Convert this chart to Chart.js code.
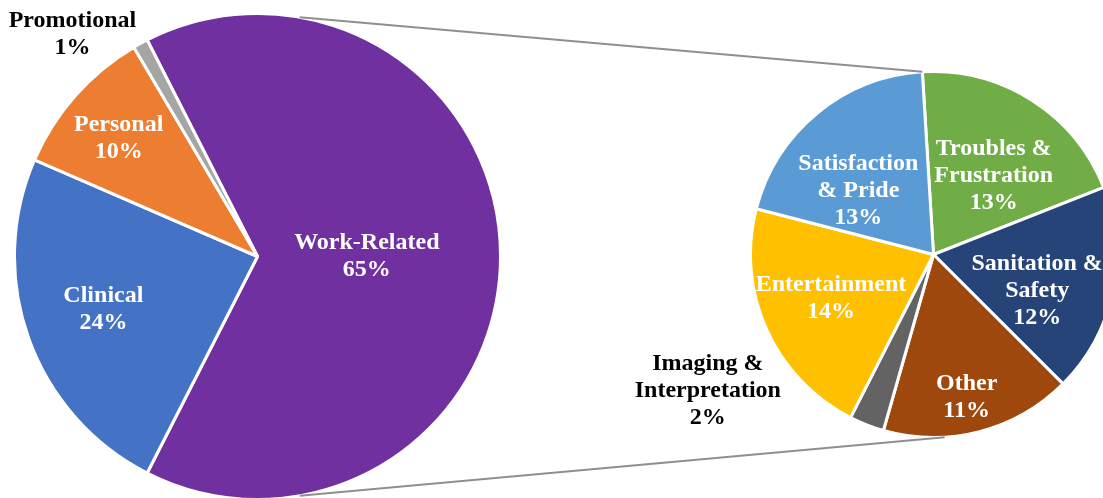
<!DOCTYPE html>
<html>
<head>
<meta charset="utf-8">
<script src="https://cdn.jsdelivr.net/npm/chart.js@4"></script>
<style>
  html, body { margin: 0; padding: 0; background: #fff; width: 1103px; height: 498px; overflow: hidden; }
  #wrap { position: relative; width: 1103px; height: 498px; overflow: hidden; }
  .box { position: absolute; }
  #mainBox { left: 13px; top: 12px; width: 489px; height: 489px; }
  #subBox { left: 749px; top: 70px; width: 369px; height: 369px; }
  #overlay { position: absolute; left: 0; top: 0; pointer-events: none; }
</style>
</head>
<body>
<div id="wrap">
  <div class="box" id="mainBox"><canvas id="mainPie"></canvas></div>
  <div class="box" id="subBox"><canvas id="subPie"></canvas></div>
  <canvas id="overlay" width="1103" height="498"></canvas>
</div>
<script>
// data
const mainCategories = [['Work-Related'], ['Clinical'], ['Personal'], ['Promotional']];
const mainValues = [65, 24, 10, 1];

const subCategories = [['Troubles &', 'Frustration'], ['Sanitation &', 'Safety'], ['Other'],
                       ['Imaging &', 'Interpretation'], ['Entertainment'], ['Satisfaction', '& Pride']];
const subValues = [13, 12, 11, 2, 14, 13];

// styles
const mainColors = ['#7030A0', '#4472C4', '#ED7D31', '#A5A5A5'];
const subColors = ['#70AD47', '#264478', '#9E480E', '#636363', '#FFC000', '#5B9BD5'];

// label placement: [fraction of radius, angle shift in degrees, text colour]
const mainLabelPlace = [[0.45, 0, '#fff'], [0.67, 1, '#fff'], [0.75, -1, '#fff'], [1.19, -11, '#000']];
const subLabelPlace = [[0.54, 5, '#fff'], [0.60, 7.5, '#fff'], [0.80, 1.5, '#fff'],
                       [1.44, 37.5, '#000'], [0.61, 1, '#fff'], [0.54, -10, '#fff']];

const FONT = 'bold 24px "Liberation Serif", "Times New Roman", serif';
const LINE_H = 27;

let mainChart = null;
let subChart = null;

function pieConfig(labels, values, colors, rotation) {
    return {
        type: 'pie',
        data: {
            labels: labels,
            datasets: [{
                data: values,
                backgroundColor: colors,
                borderColor: '#fff',
                borderWidth: 3
            }]
        },
        options: {
            responsive: true,
            maintainAspectRatio: false,
            animation: false,
            rotation: rotation,
            layout: { padding: 0 },
            plugins: { legend: { display: false }, tooltip: { enabled: false } }
        },
        plugins: [{ id: 'overlayHook', afterDraw: function () { drawOverlay(); } }]
    };
}

function boxOffset(chart) {
    const box = chart.canvas.parentNode;
    return { x: box.offsetLeft, y: box.offsetTop };
}

function drawLabels(ctx, chart, labels, values, place) {
    const off = boxOffset(chart);
    const arcs = chart.getDatasetMeta(0).data;
    ctx.font = FONT;
    ctx.textAlign = 'center';
    ctx.textBaseline = 'middle';
    arcs.forEach(function (arc, i) {
        const p = place[i];
        const mid = (arc.startAngle + arc.endAngle) / 2 + p[1] * Math.PI / 180;
        const cx = off.x + arc.x + Math.cos(mid) * arc.outerRadius * p[0];
        const cy = off.y + arc.y + Math.sin(mid) * arc.outerRadius * p[0];
        const lines = labels[i].concat([values[i] + '%']);
        const top = cy - (lines.length - 1) * LINE_H / 2;
        ctx.fillStyle = p[2];
        lines.forEach(function (t, k) {
            ctx.fillText(t, cx, top + k * LINE_H);
        });
    });
}

function drawOverlay() {
    if (!mainChart || !subChart) return;
    const ctx = document.getElementById('overlay').getContext('2d');
    ctx.clearRect(0, 0, 1103, 498);

    // connector lines between the split slice and the second pie
    const m = mainChart.getDatasetMeta(0).data[0];
    const mo = boxOffset(mainChart);
    const s = subChart.getDatasetMeta(0).data[0];
    const so = boxOffset(subChart);
    const a1 = (-90 + 10) * Math.PI / 180;
    const a2 = (-90 + 170) * Math.PI / 180;
    const b1 = s.startAngle;
    const b2 = s.startAngle + Math.PI;

    ctx.strokeStyle = '#8f8f8f';
    ctx.lineWidth = 2;
    ctx.beginPath();
    ctx.moveTo(mo.x + m.x + Math.cos(a1) * m.outerRadius, mo.y + m.y + Math.sin(a1) * m.outerRadius);
    ctx.lineTo(so.x + s.x + Math.cos(b1) * s.outerRadius, so.y + s.y + Math.sin(b1) * s.outerRadius);
    ctx.moveTo(mo.x + m.x + Math.cos(a2) * m.outerRadius, mo.y + m.y + Math.sin(a2) * m.outerRadius);
    ctx.lineTo(so.x + s.x + Math.cos(b2) * s.outerRadius, so.y + s.y + Math.sin(b2) * s.outerRadius);
    ctx.stroke();

    drawLabels(ctx, mainChart, mainCategories, mainValues, mainLabelPlace);
    drawLabels(ctx, subChart, subCategories, subValues, subLabelPlace);
}

mainChart = new Chart(document.getElementById('mainPie'), pieConfig(mainCategories, mainValues, mainColors, -27));
subChart = new Chart(document.getElementById('subPie'), pieConfig(subCategories, subValues, subColors, -3.5));
drawOverlay();
</script>
</body>
</html>
